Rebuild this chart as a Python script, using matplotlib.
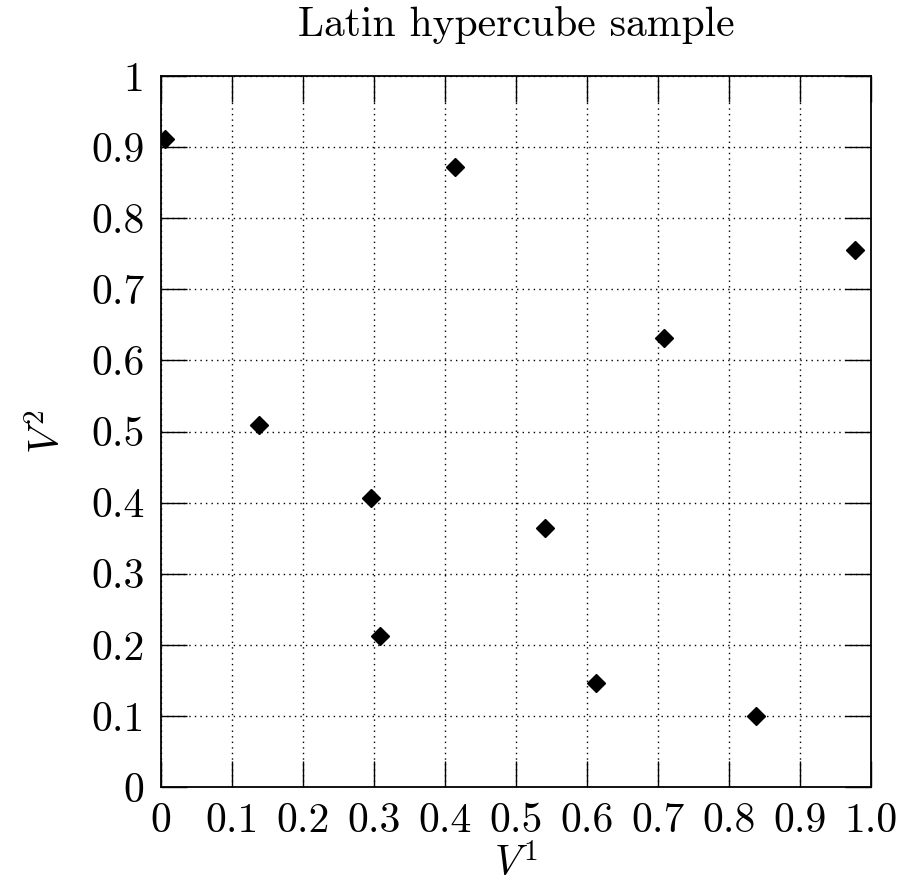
import matplotlib
matplotlib.use('Agg')
import matplotlib.pyplot as plt

plt.rcParams['font.family'] = 'serif'
plt.rcParams['font.serif'] = ['cmr10']
plt.rcParams['mathtext.fontset'] = 'cm'
plt.rcParams['axes.unicode_minus'] = False

# Latin hypercube sample points
v1 = [0.005, 0.414, 0.977, 0.708, 0.138, 0.296, 0.308, 0.540, 0.613, 0.838]
v2 = [0.911, 0.872, 0.755, 0.631, 0.509, 0.406, 0.212, 0.365, 0.147, 0.100]

x_ticks = [0, 0.1, 0.2, 0.3, 0.4, 0.5, 0.6, 0.7, 0.8, 0.9, 1.0]
x_tick_labels = ['0', '0.1', '0.2', '0.3', '0.4', '0.5', '0.6', '0.7', '0.8', '0.9', '1.0']
y_ticks = [0, 0.1, 0.2, 0.3, 0.4, 0.5, 0.6, 0.7, 0.8, 0.9, 1.0]
y_tick_labels = ['0', '0.1', '0.2', '0.3', '0.4', '0.5', '0.6', '0.7', '0.8', '0.9', '1']

fig = plt.figure(figsize=(9.03, 8.85), dpi=100)
ax = fig.add_axes([0.1786, 0.1107, 0.7860, 0.8034])

ax.plot(v1, v2, linestyle='none', marker='D', markersize=9.5, color='black')

ax.set_xlim(0, 1)
ax.set_ylim(0, 1)
ax.set_xticks(x_ticks)
ax.set_xticklabels(x_tick_labels)
ax.set_yticks(y_ticks)
ax.set_yticklabels(y_tick_labels)

ax.tick_params(direction='in', length=18.7, width=1.0, top=True, right=True,
               labelsize=30)
ax.tick_params(axis='x', pad=11)
ax.tick_params(axis='y', pad=12)
ax.grid(True, linestyle=(0, (1, 3)), color='black', linewidth=1.0)
for s in ax.spines.values():
    s.set_linewidth(1.3)

ax.set_title('Latin hypercube sample', fontsize=30, pad=29)
ax.set_xlabel('$V^1$', fontsize=30, labelpad=3)
ax.set_ylabel('$V^2$', fontsize=30, labelpad=16)

fig.savefig('out.png', dpi=100)
